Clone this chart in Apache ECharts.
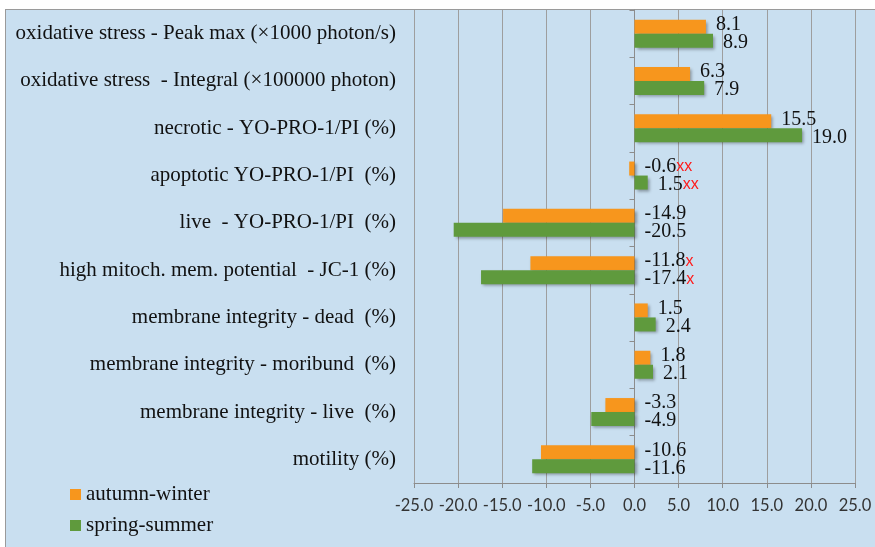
<!DOCTYPE html>
<html>
<head>
<meta charset="utf-8">
<script src="https://cdn.jsdelivr.net/npm/echarts@6/dist/echarts.min.js"></script>
<style>
html,body{margin:0;padding:0;background:#fff;overflow:hidden;}
#frame{position:absolute;left:5px;top:9px;width:880px;height:550px;background:#C9DFF0;border:1px solid #9a9a9a;}
#chart{position:absolute;left:0;top:0;width:875px;height:547px;}
</style>
</head>
<body>
<div id="frame"></div>
<div id="chart"></div>
<script>
const categories = [
  'oxidative stress - Peak max (×1000 photon/s)',
  'oxidative stress  - Integral (×100000 photon)',
  'necrotic - YO-PRO-1/PI (%)',
  'apoptotic YO-PRO-1/PI  (%)',
  'live  - YO-PRO-1/PI  (%)',
  'high mitoch. mem. potential  - JC-1 (%)',
  'membrane integrity - dead  (%)',
  'membrane integrity - moribund  (%)',
  'membrane integrity - live  (%)',
  'motility (%)'
];
const autumnWinter = [8.1, 6.3, 15.5, -0.6, -14.9, -11.8, 1.5, 1.8, -3.3, -10.6];
const springSummer = [8.9, 7.9, 19.0, 1.5, -20.5, -17.4, 2.4, 2.1, -4.9, -11.6];
const autumnMarks = ['', '', '', 'xx', '', 'x', '', '', '', ''];
const springMarks = ['', '', '', 'xx', '', 'x', '', '', '', ''];
const xTicks = [-25, -20, -15, -10, -5, 0, 5, 10, 15, 20, 25];

const serif = '"Liberation Serif", "DejaVu Serif", serif';
const labelRich = { r: { color: '#ff1a1a', fontFamily: '"Liberation Sans", sans-serif', fontSize: 16 } };

function mkLabel(marks, dy) {
  return {
    show: true,
    position: 'right',
    distance: 10,
    offset: [0, dy],
    fontFamily: serif,
    fontSize: 20,
    color: '#111',
    formatter: p => p.value.toFixed(1) + (marks[p.dataIndex] ? '{r|' + marks[p.dataIndex] + '}' : ''),
    rich: labelRich
  };
}

const chart = echarts.init(document.getElementById('chart'));
chart.setOption({
  backgroundColor: 'transparent',
  animation: false,
  grid: { left: 414, right: 20, top: 10, bottom: 64, containLabel: false },
  legend: {
    orient: 'vertical',
    left: 70,
    top: 484,
    padding: 0,
    height: 63,
    itemWidth: 11,
    itemHeight: 11,
    itemGap: 10,
    icon: 'rect',
    textStyle: { fontFamily: serif, fontSize: 21, color: '#111' },
    data: ['autumn-winter', 'spring-summer']
  },
  xAxis: {
    type: 'value',
    min: xTicks[0],
    max: xTicks[xTicks.length - 1],
    interval: 5,
    axisLine: { show: true, onZero: false, lineStyle: { color: '#8c8c8c', width: 1 } },
    axisTick: { show: true, length: 5, lineStyle: { color: '#8c8c8c' } },
    axisLabel: { fontFamily: 'Lato, "Open Sans", sans-serif', fontSize: 16.5, color: '#333', margin: 14, formatter: v => v.toFixed(1) },
    splitLine: { show: true, lineStyle: { color: '#9e9e9e', width: 1 } }
  },
  yAxis: [
    {
      type: 'category',
      data: categories,
      inverse: true,
      position: 'left',
      axisLine: { show: false, onZero: false },
      axisTick: { show: false },
      axisLabel: { fontFamily: serif, fontSize: 21, color: '#111', margin: 18 },
      splitLine: { show: false }
    },
    {
      type: 'category',
      data: categories,
      inverse: true,
      position: 'left',
      axisLine: { show: true, onZero: true, lineStyle: { color: '#8c8c8c', width: 1 } },
      axisTick: { show: true, length: 5, lineStyle: { color: '#8c8c8c' } },
      axisLabel: { show: false },
      splitLine: { show: false }
    }
  ],
  series: [
    {
      name: 'autumn-winter',
      type: 'bar',
      yAxisIndex: 0,
      data: autumnWinter,
      barWidth: 14,
      barGap: '0%',
      itemStyle: { color: '#F7961D', shadowBlur: 3, shadowColor: 'rgba(0,0,0,0.35)', shadowOffsetX: 2, shadowOffsetY: 2 },
      label: mkLabel(autumnMarks, -2),
      z: 3
    },
    {
      name: 'spring-summer',
      type: 'bar',
      yAxisIndex: 0,
      data: springSummer,
      barWidth: 14,
      barGap: '0%',
      itemStyle: { color: '#5F9A3D', shadowBlur: 3, shadowColor: 'rgba(0,0,0,0.35)', shadowOffsetX: 2, shadowOffsetY: 2 },
      label: mkLabel(springMarks, 2),
      z: 3
    }
  ]
});
</script>
</body>
</html>
